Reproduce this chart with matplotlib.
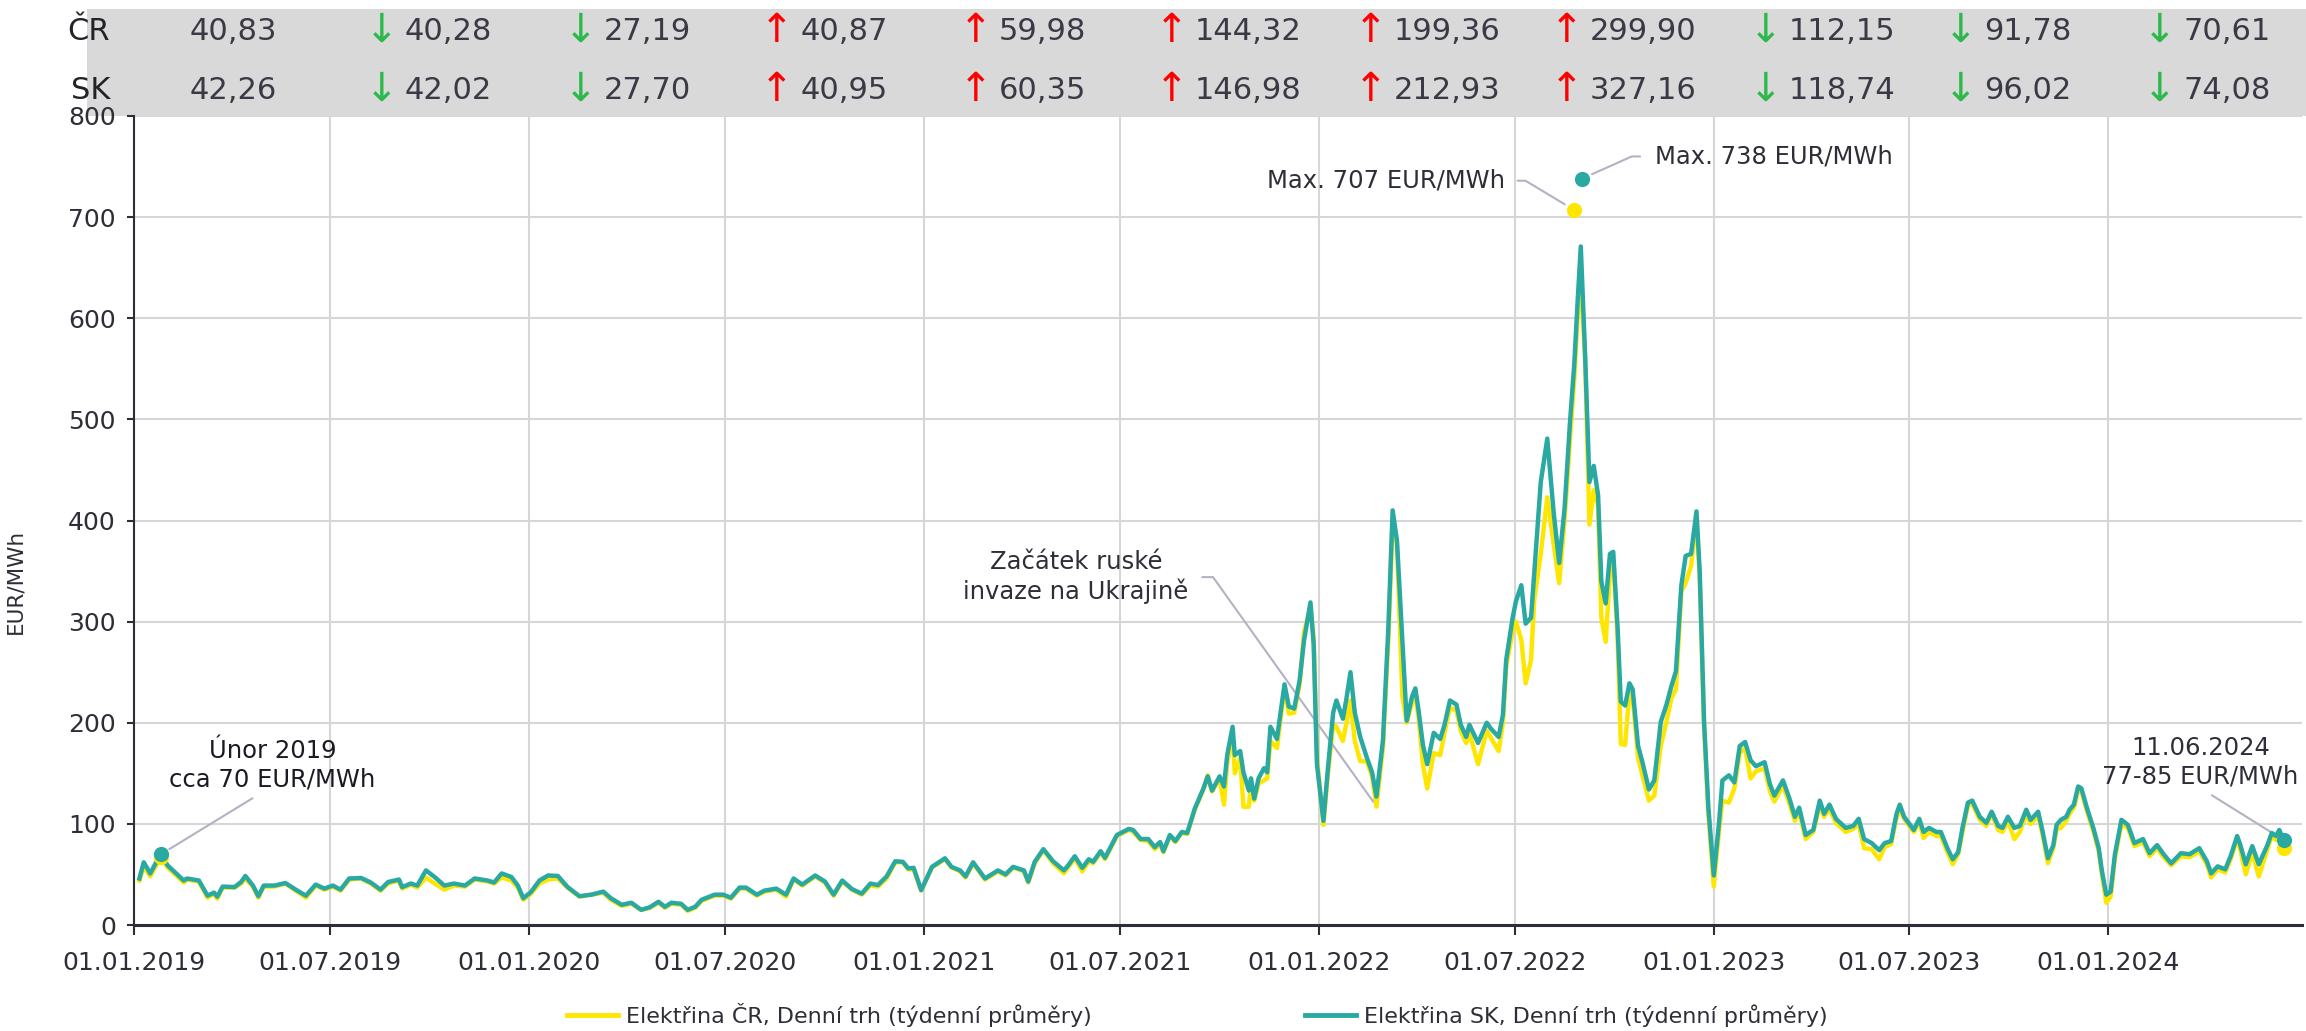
import numpy as np
import pandas as pd
import matplotlib
matplotlib.use("Agg")
import matplotlib.pyplot as plt
import matplotlib.dates as mdates
import matplotlib.transforms as mtransforms
from matplotlib.lines import Line2D
from matplotlib.patches import Rectangle

plt.rcParams['font.family'] = ['DejaVu Sans']

# ---------------- data ----------------
# day offsets from 01.01.2019 (weekly averages)
days = [5, 9, 15, 20, 25, 31, 39, 46, 49, 60, 68, 74, 77, 82, 93, 99, 103, 110, 115, 120,
        130, 140, 151, 159, 168, 176, 184, 191, 199, 210, 219, 228, 235, 245, 248, 256, 262, 270, 278, 287,
        296, 306, 315, 327, 333, 340, 349, 355, 360, 367, 375, 383, 392, 401, 412, 423, 434, 441, 451, 460,
        469, 477, 485, 491, 497, 506, 512, 519, 525, 537, 545, 552, 560, 566, 576, 583, 594, 603, 610, 618,
        630, 639, 647, 655, 664, 673, 681, 688, 696, 704, 711, 716, 721, 728, 738, 750, 756, 764, 769, 776,
        787, 799, 806, 813, 823, 827, 833, 841, 850, 860, 864, 870, 877, 883, 887, 894, 898, 909, 920, 924,
        931, 938, 944, 949, 952, 958, 963, 969, 974, 981, 989, 993, 997, 1004, 1008, 1011, 1016, 1018, 1023, 1026,
        1031, 1033, 1036, 1040, 1045, 1048, 1051, 1057, 1064, 1068, 1073, 1078, 1082, 1088, 1091, 1094, 1100, 1104, 1109, 1112,
        1118, 1121, 1125, 1129, 1134, 1140, 1145, 1149, 1155, 1160, 1164, 1168, 1173, 1177, 1182, 1185, 1188, 1192, 1196, 1202,
        1208, 1212, 1217, 1223, 1227, 1232, 1235, 1243, 1251, 1255, 1262, 1266, 1269, 1275, 1278, 1283, 1287, 1292, 1295, 1301,
        1307, 1313, 1318, 1323, 1328, 1332, 1335, 1338, 1342, 1346, 1350, 1354, 1357, 1361, 1365, 1368, 1372, 1375, 1379, 1383,
        1386, 1391, 1395, 1401, 1406, 1412, 1417, 1422, 1426, 1431, 1435, 1440, 1445, 1448, 1452, 1456, 1461, 1466, 1469, 1475,
        1480, 1485, 1490, 1495, 1500, 1508, 1513, 1517, 1525, 1531, 1536, 1540, 1546, 1553, 1559, 1563, 1568, 1574, 1583, 1590,
        1595, 1600, 1607, 1614, 1619, 1625, 1630, 1633, 1637, 1646, 1651, 1655, 1660, 1667, 1671, 1677, 1682, 1687, 1691, 1696,
        1700, 1707, 1713, 1718, 1724, 1728, 1733, 1739, 1744, 1750, 1754, 1761, 1765, 1770, 1775, 1778, 1782, 1787, 1790, 1794,
        1798, 1801, 1806, 1812, 1817, 1820, 1824, 1828, 1832, 1838, 1844, 1850, 1858, 1864, 1871, 1877, 1884, 1893, 1901, 1910,
        1917, 1921, 1927, 1934, 1939, 1945, 1948, 1953, 1959, 1965, 1973, 1977, 1981, 1984, 1988]

sk_price = [46, 62, 51, 61, 70, 59, 51, 44, 46, 44, 29, 32, 28, 38, 37.5, 42.5, 48.5, 39, 28.5, 39,
            39, 41.5, 34, 29, 40, 36, 39, 35, 46, 46.5, 42, 35, 42.5, 45, 37.5, 41, 39, 54, 47.5, 39,
            41, 39, 46, 44, 42, 51, 47.5, 39, 26.5, 32.5, 44, 49, 48.5, 37.5, 28.5, 30, 33, 26.5, 20, 22,
            15, 17.5, 23, 18, 22, 21, 15, 18, 25, 30, 30, 27, 37, 37, 30, 34, 36, 30, 46, 40,
            49, 43, 30, 44, 35.5, 31, 41, 39.5, 48, 63, 62.5, 56, 56.5, 34.5, 57.5, 66, 57.5, 54, 48, 62,
            46, 54, 50, 57.5, 54, 43, 62.5, 75, 63, 54, 59, 68, 56.5, 65, 62.5, 73, 66.5, 89, 95, 94,
            85, 85, 77, 82, 73, 89, 83, 92, 91, 115, 135, 147, 133, 147, 137, 168, 196, 168, 172, 151,
            133, 145, 125, 145, 155, 151, 196, 184, 238, 216, 214, 242, 281, 319, 277, 159, 103, 153, 210, 222,
            204, 222, 250, 210, 186, 166, 151, 127, 182, 293, 410, 380, 281, 202, 226, 234, 212, 178, 159, 190,
            184, 198, 222, 218, 198, 186, 198, 180, 200, 194, 186, 208, 262, 304, 320, 336, 298, 304, 349, 438,
            481, 407, 358, 412, 497, 555, 615, 671, 564, 438, 454, 425, 340, 318, 367, 369, 295, 221, 217, 239,
            233, 177, 161, 134, 143, 201, 217, 237, 251, 336, 365, 367, 409, 349, 201, 116, 49, 103, 143, 148,
            141, 177, 181, 163, 157, 161, 139, 128, 143, 125, 107, 116, 89, 94, 123, 110, 119, 105, 96, 98,
            105, 85, 81, 74, 81, 83, 110, 119, 107, 94, 105, 92, 96, 92, 92, 76, 65, 72, 96, 121,
            123, 107, 101, 112, 98, 96, 107, 96, 98, 114, 104, 112, 93, 66, 79, 99, 104, 107, 114, 119,
            137, 135, 116, 96, 76, 53, 30, 33, 70, 104, 99, 81, 85, 71, 79, 70, 61, 71, 70, 76,
            63, 51, 58, 55, 68, 88, 79, 60, 78, 60, 79, 91, 88, 94, 84]

cz_price = [44, 58, 48, 58, 67, 57, 49, 42, 45, 43, 27, 31, 26, 37, 37, 41, 46, 38, 27, 38,
            38, 41, 33, 27, 39, 35, 38, 34, 45, 46, 41, 34, 41, 44, 36, 40, 37, 47, 41, 35,
            39, 38, 45, 43, 41, 47, 44, 37, 25, 31, 41, 45, 46, 37, 28, 30, 32, 25, 19, 21,
            15, 17, 22, 17, 21, 20, 14, 17, 24, 29, 29, 26, 36, 36, 29, 33, 35, 28, 45, 39,
            48, 42, 29, 43, 35, 30, 39, 38, 46, 62, 62, 55, 55, 34, 57, 65, 57, 53, 47, 61,
            45, 53, 49, 57, 53, 42, 61, 74, 61, 51, 57, 66, 53, 63, 61, 72, 65, 88, 94, 92,
            84, 83, 75, 80, 72, 88, 82, 91, 90, 114, 134, 148, 132, 145, 119, 160, 190, 150, 165, 117,
            117, 138, 123, 140, 143, 145, 182, 175, 235, 209, 210, 238, 289, 315, 283, 165, 99, 148, 198, 196,
            182, 198, 222, 182, 162, 162, 147, 117, 175, 280, 400, 376, 226, 200, 220, 228, 205, 159, 135, 170,
            168, 190, 215, 212, 192, 180, 190, 159, 192, 185, 172, 200, 255, 291, 300, 282, 239, 262, 322, 367,
            423, 376, 338, 400, 480, 540, 600, 640, 560, 396, 430, 415, 304, 280, 349, 360, 285, 179, 178, 230,
            225, 165, 148, 123, 128, 177, 200, 225, 233, 330, 338, 355, 403, 345, 198, 110, 38, 95, 123, 121,
            135, 170, 175, 145, 152, 155, 132, 122, 138, 120, 103, 112, 85, 92, 118, 107, 115, 101, 92, 95,
            100, 76, 75, 65, 77, 80, 106, 115, 105, 92, 102, 86, 92, 88, 88, 72, 60, 70, 92, 118,
            120, 104, 98, 110, 94, 92, 103, 85, 92, 110, 100, 108, 90, 61, 76, 95, 96, 103, 110, 116,
            133, 132, 113, 93, 73, 50, 22, 28, 66, 100, 96, 78, 82, 68, 76, 67, 59, 68, 67, 73,
            60, 47, 55, 52, 65, 85, 74, 50, 72, 48, 75, 88, 84, 90, 76]

# daily maxima 2022
max_days = [1332, 1339]
max_vals = [707, 738]

# half-year averages table
period_starts = ['2019-01-01', '2019-07-01', '2020-01-01', '2020-07-01', '2021-01-01', '2021-07-01',
                 '2022-01-01', '2022-07-01', '2023-01-01', '2023-07-01', '2024-01-01']
cr_avg = [40.83, 40.28, 27.19, 40.87, 59.98, 144.32, 199.36, 299.90, 112.15, 91.78, 70.61]
sk_avg = [42.26, 42.02, 27.70, 40.95, 60.35, 146.98, 212.93, 327.16, 118.74, 96.02, 74.08]

tick_dates = period_starts
label_cz = 'Elektřina ČR, Denní trh (týdenní průměry)'
label_sk = 'Elektřina SK, Denní trh (týdenní průměry)'

# ---------------- style ----------------
TEAL = '#29A9A2'
YEL = '#FFE600'
TXT = '#2E2E38'
GRID = '#D6D6D6'
CONN = '#B4B1C2'
GREEN = '#2DB84B'
RED = '#FF0000'

start = pd.Timestamp('2019-01-01')
def d(n):
    return start + pd.Timedelta(days=n)

dates = start + pd.to_timedelta(days, unit='D')

fig = plt.figure(figsize=(23.06, 10.31), dpi=100)
# gray band behind the table (drawn below everything)
band = Rectangle((0.0377, 0.8875), 1 - 0.0377, 0.1038, transform=fig.transFigure,
                 facecolor='#D9D9D9', edgecolor='none', zorder=-10)
fig.patches.append(band)

ax = fig.add_axes([0.05811, 0.10281, 0.94016, 0.78468])
ax.patch.set_alpha(0)

ax.plot(dates, cz_price, color=YEL, lw=3.2, solid_joinstyle='round', zorder=3, label=label_cz)
ax.plot(dates, sk_price, color=TEAL, lw=3.2, solid_joinstyle='round', zorder=4, label=label_sk)

# markers
ax.scatter([dates[4]], [cz_price[4]], s=120, color=YEL, zorder=5, linewidths=0)
ax.scatter([dates[4]], [sk_price[4]], s=120, color=TEAL, zorder=6, linewidths=0)
ax.scatter([dates[-1]], [cz_price[-1]], s=120, color=YEL, zorder=5, linewidths=0)
ax.scatter([dates[-1]], [sk_price[-1]], s=120, color=TEAL, zorder=6, linewidths=0)
max_dates = [d(n) for n in max_days]
ax.scatter([max_dates[0]], [max_vals[0]], s=120, color=YEL, zorder=6, linewidths=0)
ax.scatter([max_dates[1]], [max_vals[1]], s=120, color=TEAL, zorder=6, linewidths=0)

ax.set_xlim(start, pd.Timestamp('2024-06-28'))
ax.set_ylim(0, 800)
ax.set_yticks(np.arange(0, 801, 100))
ax.set_xticks(pd.to_datetime(tick_dates))
ax.xaxis.set_major_formatter(mdates.DateFormatter('%d.%m.%Y'))
ax.grid(True, color=GRID, linewidth=1.5)
ax.set_axisbelow(True)
for s in ['top', 'right']:
    ax.spines[s].set_visible(False)
ax.spines['left'].set_color(TXT)
ax.spines['left'].set_linewidth(1.5)
ax.spines['bottom'].set_color(TXT)
ax.spines['bottom'].set_linewidth(2.2)
ax.tick_params(axis='x', direction='out', length=7, width=1.5, color=TXT, pad=12,
               labelsize=18, labelcolor=TXT)
ax.tick_params(axis='y', direction='out', length=5, width=1.5, color=TXT, pad=8,
               labelsize=18, labelcolor=TXT)
ax.set_ylabel('EUR/MWh', fontsize=15.5, color=TXT)
ax.yaxis.set_label_coords(-0.0503, 0.425)

# annotations
AFS = 17.5
ax.annotate('Únor 2019\ncca 70 EUR/MWh', xy=(dates[4], sk_price[4]), xytext=(d(128), 158),
            ha='center', va='center', fontsize=AFS, color='#1a1a24', multialignment='center',
            arrowprops=dict(arrowstyle='-', color=CONN, lw=1.5, shrinkA=6, shrinkB=7, relpos=(0.46, 0)))
ax.annotate('Začátek ruské\ninvaze na Ukrajině', xy=(d(1146), 122), xytext=(d(871), 344),
            ha='center', va='center', fontsize=AFS, color=TXT, multialignment='center',
            arrowprops=dict(arrowstyle='-', color=CONN, lw=1.5, shrinkA=8, shrinkB=0, relpos=(1, 0.5),
                            connectionstyle='angle,angleA=0,angleB=125.5,rad=0'))
ax.annotate('Max. 707 EUR/MWh', xy=(max_dates[0], max_vals[0]), xytext=(d(1268), 736),
            ha='right', va='center', fontsize=AFS, color=TXT,
            arrowprops=dict(arrowstyle='-', color=CONN, lw=1.5, shrinkA=7, shrinkB=8, relpos=(1, 0.5),
                            connectionstyle='angle,angleA=0,angleB=149,rad=0'))
ax.annotate('Max. 738 EUR/MWh', xy=(max_dates[1], max_vals[1]), xytext=(d(1407), 760),
            ha='left', va='center', fontsize=AFS, color=TXT,
            arrowprops=dict(arrowstyle='-', color=CONN, lw=1.5, shrinkA=9, shrinkB=8, relpos=(0, 0.5),
                            connectionstyle='angle,angleA=180,angleB=24,rad=0'))
ax.annotate('11.06.2024\n77-85 EUR/MWh', xy=(dates[-1], sk_price[-1]), xytext=(d(1911), 161),
            ha='center', va='center', fontsize=AFS, color=TXT, multialignment='center',
            arrowprops=dict(arrowstyle='-', color=CONN, lw=1.5, shrinkA=6, shrinkB=8, relpos=(0.5, 0)))

# top table
row_y = {'ČR': 0.961, 'SK': 0.904}
fig.text(0.0477, row_y['ČR'], 'ČR', ha='right', va='baseline', fontsize=22, color='#222228')
fig.text(0.0477, row_y['SK'], 'SK', ha='right', va='baseline', fontsize=22, color='#222228')
blend = mtransforms.blended_transform_factory(ax.transData, fig.transFigure)
arrow_tr = mtransforms.offset_copy(blend, fig=fig, x=-23, y=-2, units='dots')
for vals, key in [(cr_avg, 'ČR'), (sk_avg, 'SK')]:
    y = row_y[key]
    for i, v in enumerate(vals):
        ps = pd.Timestamp(period_starts[i])
        txt = f'{v:.2f}'.replace('.', ',')
        if i == 0:
            ax.text(ps + pd.Timedelta(days=51), y, txt, transform=blend, ha='left', va='baseline',
                    fontsize=22, color='#3A3A46', clip_on=False, zorder=10)
        else:
            xpos = ps + pd.Timedelta(days=69)
            ax.text(xpos, y, txt, transform=blend, ha='left', va='baseline',
                    fontsize=22, color='#3A3A46', clip_on=False, zorder=10)
            up = v > vals[i - 1]
            ax.text(xpos, y, '↑' if up else '↓', transform=arrow_tr, ha='center', va='baseline',
                    fontsize=29, color=RED if up else GREEN, clip_on=False, zorder=10)

# legend
handles = [Line2D([], [], color=YEL, lw=3.5), Line2D([], [], color=TEAL, lw=3.5)]
fig.legend(handles, [label_cz, label_sk], loc='center', bbox_to_anchor=(0.5193, 0.0155), ncol=2,
           frameon=False, fontsize=16, handlelength=2.3, handletextpad=0.36, columnspacing=9.6,
           labelcolor=TXT)

fig.savefig('out.png', dpi=100)
